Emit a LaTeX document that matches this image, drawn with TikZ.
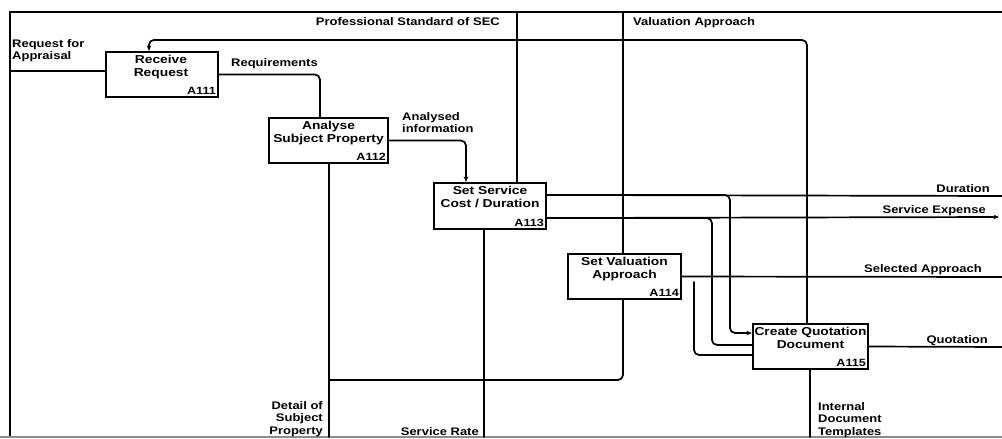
\documentclass[tikz,border=0pt]{standalone}
\usepackage{fontspec}
\usetikzlibrary{calc,arrows.meta}
\newfontfamily\boxsans{Liberation Sans}[FakeStretch=1.2]
\newfontfamily\lblsans{Liberation Sans}[FakeStretch=1.18]

\tikzset{
  box/.style={draw, line width=2.1pt, inner sep=0pt, fill=white},
  boxname/.style={font=\boxsans\bfseries\fontsize{11.5}{13}\selectfont, align=center, inner sep=0pt, anchor=north},
  boxid/.style={font=\boxsans\bfseries\fontsize{10.5}{12}\selectfont, inner sep=0pt, anchor=south east},
  lbl/.style={font=\lblsans\bfseries\fontsize{11}{12.8}\selectfont, inner sep=0pt},
  flow/.style={line width=1.7pt, line cap=round},
  tip/.style={-{Stealth[length=5.5pt,width=4.5pt]}},
  frameline/.style={line width=1.7pt},
}

\begin{document}
\begin{tikzpicture}[x=1pt,y=-1pt]
\useasboundingbox (0,0) rectangle (1002,439);

% diagram frame
\draw[frameline] (1002,12) -- (10,12) -- (10,437);
\draw[line width=1.2pt, black!45] (0,437) -- (1002,437);

% activity boxes
\node[box, minimum width=112pt, minimum height=45pt] (a111) at (162,74.5) {};
\node[box, minimum width=119pt, minimum height=45pt] (a112) at (328.5,140.5) {};
\node[box, minimum width=112pt, minimum height=46pt] (a113) at (490,206) {};
\node[box, minimum width=113pt, minimum height=45pt] (a114) at (624.5,276.5) {};
\node[box, minimum width=115pt, minimum height=45pt] (a115) at (810.5,346.5) {};

\node[boxname] (a111t) at ($(a111.north)+(-1,4)$) {Receive\\Request};
\node[boxname] (a112t) at ($(a112.north)+(0,4)$) {Analyse\\Subject Property};
\node[boxname] (a113t) at ($(a113.north)+(0,4.5)$) {Set Service\\Cost / Duration};
\node[boxname] (a114t) at ($(a114.north)+(0,4)$) {Set Valuation\\Approach};
\begin{scope}
  \clip ($(a115.north west)+(1,1)$) rectangle ($(a115.south east)+(-1,-1)$);
  \node[boxname] (a115t) at ($(a115.north)+(0,4)$) {Create Quotation\\Document};
\end{scope}

\node[boxid] (a111id) at ($(a111.south east)+(-3,-3)$) {A111};
\node[boxid] (a112id) at ($(a112.south east)+(-3,-3)$) {A112};
\node[boxid] (a113id) at ($(a113.south east)+(-3,-3)$) {A113};
\node[boxid] (a114id) at ($(a114.south east)+(-3,-3)$) {A114};
\node[boxid] (a115id) at ($(a115.south east)+(-3,-3)$) {A115};

% boundary points
\coordinate (inReq) at (10,71);
\coordinate (ctlPS) at (517,12);
\coordinate (ctlVA) at (623,12);
\coordinate (outDur) at (1002,196);
\coordinate (outSE) at (999,217);
\coordinate (outSA) at (1002,277);
\coordinate (outQ) at (1002,347);
\coordinate (mDet) at (329,437);
\coordinate (mSR) at (484,437);
\coordinate (mIDT) at (810,437);
\coordinate (detTap) at (329,380);
\coordinate (saTap) at (694,282);

% inputs
\draw[flow] (inReq) -- (a111.west |- inReq);
\draw[flow, rounded corners=5pt] (a111.east) -| ($(a112.north west)+(52,0)$);
\draw[flow, tip, rounded corners=5pt] (a112.east) -| ($(a113.north west)+(33,0)$);

% controls
\draw[flow] (ctlPS) -- (ctlPS |- a113.north);
\draw[flow] (ctlVA) -- (ctlVA |- a114.north);
\draw[flow, tip, rounded corners=5pt] ($(a115.north west)+(55,0)$) |- ($(a111.north west)+(44,-11)$) -- ($(a111.north west)+(44,0)$);

% outputs of A113
\draw[flow] ($(a113.north east)+(0,13)$) -- (outDur);
\draw[flow, tip, rounded corners=5pt] ($(a113.north east)+(0,13)$) -| ($(a115.north west)+(-22,10)$) -- ($(a115.north west)+(0,10)$);
\draw[flow, tip] ($(a113.south east)+(0,-12)$) -- (outSE);
\draw[flow, rounded corners=5pt] ($(a113.south east)+(0,-12)$) -| ($(a115.north west)+(-40,22)$) -- ($(a115.north west)+(0,22)$);

% outputs of A114 and A115
\draw[flow] (a114.east) -- (outSA);
\draw[flow, rounded corners=5pt] (saTap) |- ($(a115.north west)+(0,32)$);
\draw[flow] (a115.east) -- (outQ);

% mechanisms
\draw[flow] (mDet) -- (mDet |- a112.south);
\draw[flow, rounded corners=5pt] (detTap) -| (ctlVA |- a114.south);
\draw[flow] (mSR) -- (mSR |- a113.south);
\draw[flow] (mIDT) -- (mIDT |- a115.south);

% arrow labels
\node[lbl, anchor=north west, align=left] (lReq) at (12,39) {Request for\\Appraisal};
\node[lbl, anchor=base west] (lRqm) at (231,66) {Requirements};
\node[lbl, anchor=base east] (lPS) at (500,25) {Professional Standard of SEC};
\node[lbl, anchor=base west] (lVA) at (633,25.5) {Valuation Approach};
\node[lbl, anchor=north west, align=left] (lAI) at (402,112) {Analysed\\information};
\node[lbl, anchor=base east] (lDur) at (990,192) {Duration};
\node[lbl, anchor=base east] (lSE) at (986,213) {Service Expense};
\node[lbl, anchor=base east] (lSA) at (982,272) {Selected Approach};
\node[lbl, anchor=base east] (lQ) at (988,343) {Quotation};
\node[lbl, anchor=north east, align=right] (lDet) at (323,401) {Detail of\\Subject\\Property};
\node[lbl, anchor=base east] (lSR) at (479,435) {Service Rate};
\node[lbl, anchor=north west, align=left] (lIDT) at (818,402) {Internal\\Document\\Templates};
\end{tikzpicture}
\end{document}
